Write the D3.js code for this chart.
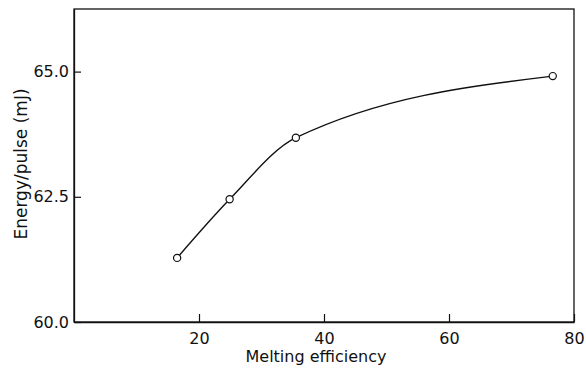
<!DOCTYPE html>
<html>
<head>
<meta charset="utf-8">
<script src="https://cdn.jsdelivr.net/npm/d3@7"></script>
<style>
  body { margin: 0; background: #fff; }
  svg text { font-family: "DejaVu Sans", sans-serif; fill: #111; }
</style>
</head>
<body>
<div id="chart"></div>
<script>
// melting efficiency vs energy per pulse
const efficiency = [16.5, 24.9, 35.5, 76.6];
const energy = [61.28, 62.45, 63.68, 64.91];
const xTicks = [20, 40, 60, 80];
const yTicks = [60.0, 62.5, 65.0];

const margin = { top: 9, right: 12, bottom: 49, left: 74 };
const width = 586 - margin.left - margin.right;
const height = 371 - margin.top - margin.bottom;

const svg = d3.select('#chart')
  .append('svg')
  .attr('width', 586)
  .attr('height', 371);

const g = svg.append('g')
  .attr('transform', `translate(${margin.left},${margin.top})`);

const x = d3.scaleLinear().domain([0, 80]).range([0, width]);
const y = d3.scaleLinear().domain([60, 66.25]).range([height, 0]);

// frame
g.append('rect')
  .attr('width', width)
  .attr('height', height)
  .attr('fill', 'none')
  .attr('stroke', '#111')
  .attr('stroke-width', 1.3);

const xAxis = g.append('g')
  .attr('transform', `translate(0,${height})`)
  .call(d3.axisBottom(x).tickValues(xTicks).tickSizeInner(-8).tickSizeOuter(0).tickPadding(11));

const yAxis = g.append('g')
  .call(d3.axisLeft(y).tickValues(yTicks).tickFormat(d3.format('.1f')).tickSizeInner(-7).tickSizeOuter(0).tickPadding(5));

[xAxis, yAxis].forEach((a) => {
  a.select('.domain').attr('stroke', '#111').attr('stroke-width', 1.3);
  a.selectAll('.tick line').attr('stroke', '#111').attr('stroke-width', 1.2);
  a.selectAll('.tick text').style('font-size', '16px').attr('fill', '#111');
});

g.append('text')
  .attr('x', x(40) - 8)
  .attr('y', height + 40)
  .attr('text-anchor', 'middle')
  .style('font-size', '16px')
  .text('Melting efficiency');

g.append('text')
  .attr('transform', 'rotate(-90)')
  .attr('x', -155)
  .attr('y', -47)
  .attr('text-anchor', 'middle')
  .style('font-size', '17px')
  .text('Energy/pulse (mJ)');

const data = efficiency.map((e, i) => ({ e, v: energy[i] }));

const line = d3.line()
  .x((d) => x(d.e))
  .y((d) => y(d.v))
  .curve(d3.curveMonotoneX);

g.append('path')
  .datum(data)
  .attr('fill', 'none')
  .attr('stroke', '#111')
  .attr('stroke-width', 1.4)
  .attr('d', line);

g.selectAll('circle')
  .data(data)
  .enter()
  .append('circle')
  .attr('cx', (d) => x(d.e))
  .attr('cy', (d) => y(d.v))
  .attr('r', 3.6)
  .attr('fill', '#fff')
  .attr('stroke', '#111')
  .attr('stroke-width', 1.2);
</script>
</body>
</html>
